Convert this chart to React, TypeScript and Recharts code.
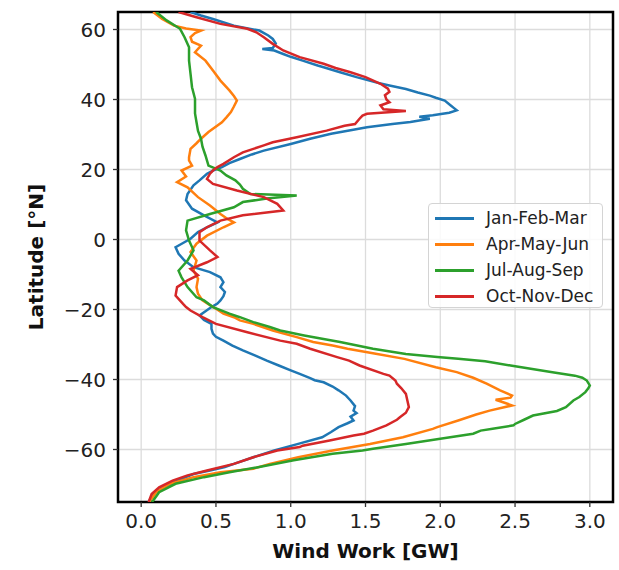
import { LineChart, Line, XAxis, YAxis, CartesianGrid, Legend, ReferenceArea } from "recharts";

// [latitude °N, wind work GW]
const JAN_FEB_MAR: [number, number][] = [
  [-75, 0.05], [-72.7, 0.08], [-70.8, 0.15], [-68.9, 0.24], [-67, 0.35], [-66, 0.46], [-65, 0.56],
  [-64.1, 0.62], [-62.2, 0.75], [-60.3, 0.89], [-58.4, 1.05], [-56.5, 1.21], [-55, 1.27], [-53.6, 1.32],
  [-52.5, 1.38], [-51.7, 1.42], [-50.6, 1.4], [-49.6, 1.44], [-48.9, 1.42], [-47.6, 1.43], [-46, 1.4],
  [-44.6, 1.37], [-43.1, 1.32], [-42, 1.28], [-40.8, 1.22], [-40.2, 1.16], [-39.6, 1.13], [-38.4, 1.06],
  [-37.4, 1.0], [-36, 0.92], [-34.6, 0.84], [-33.1, 0.76], [-31.7, 0.68], [-30.3, 0.61], [-28.9, 0.55],
  [-27.8, 0.5], [-26.9, 0.48], [-25.5, 0.47], [-24.1, 0.47], [-23, 0.42], [-21.7, 0.39], [-20.5, 0.43],
  [-19.3, 0.47], [-18.3, 0.51], [-17.4, 0.53], [-16.2, 0.55], [-15, 0.56], [-13.6, 0.53], [-12.2, 0.55],
  [-10.8, 0.53], [-9.3, 0.46], [-7.9, 0.35], [-6, 0.29], [-4.1, 0.25], [-2.2, 0.23], [-1, 0.28],
  [0.2, 0.33], [2.1, 0.38], [3.5, 0.44], [4.9, 0.51], [6.9, 0.42], [8.8, 0.34], [11.2, 0.3], [13, 0.31],
  [15.5, 0.35], [16.9, 0.39], [18.8, 0.44], [19.7, 0.48], [20.7, 0.54], [21.8, 0.59], [23, 0.66],
  [24.3, 0.74], [25.4, 0.82], [27.3, 1.0], [28.8, 1.13], [30.2, 1.27], [31.2, 1.4], [32.1, 1.51],
  [33, 1.68], [33.6, 1.8], [34.5, 1.93], [35.1, 1.86], [35.5, 1.95], [36.2, 2.06], [36.9, 2.11],
  [37.6, 2.09], [38.3, 2.07], [39.7, 2.03], [40.5, 1.97], [41.1, 1.93], [42, 1.85], [43, 1.77],
  [44, 1.66], [44.9, 1.57], [46.4, 1.44], [47.8, 1.33], [49.2, 1.22], [49.7, 1.18], [51.1, 1.08],
  [52.2, 1.0], [53, 0.95], [54, 0.89], [54.4, 0.81], [54.7, 0.88], [56, 0.9], [57.3, 0.88], [58.3, 0.85],
  [59.7, 0.79], [61.1, 0.62], [63, 0.48], [64, 0.4], [65, 0.33],
];

const APR_MAY_JUN: [number, number][] = [
  [-75, 0.05], [-74.6, 0.06], [-72.2, 0.1], [-69.8, 0.19], [-67.9, 0.35], [-66.5, 0.53], [-65.5, 0.75],
  [-64.1, 0.86], [-62.2, 1.05], [-60.3, 1.28], [-58.4, 1.53], [-56.5, 1.75], [-54.1, 1.95], [-53.6, 1.98],
  [-51.7, 2.12], [-50, 2.24], [-48.9, 2.33], [-47.4, 2.48], [-46.5, 2.42], [-45.8, 2.37], [-45.2, 2.47],
  [-44.6, 2.48], [-43.1, 2.4], [-41.2, 2.31], [-39.5, 2.22], [-37.9, 2.11], [-36.5, 1.97], [-34.1, 1.76],
  [-32.5, 1.55], [-31.2, 1.38], [-30.3, 1.28], [-29.3, 1.15], [-27.9, 1.04], [-26, 0.88], [-24.1, 0.75],
  [-23.1, 0.66], [-22.2, 0.62], [-21.2, 0.55], [-19.8, 0.5], [-18.5, 0.45], [-17.4, 0.41], [-15.5, 0.38],
  [-13.6, 0.37], [-11.2, 0.38], [-8.9, 0.35], [-6, 0.37], [-3.6, 0.33], [-1.2, 0.37], [1.1, 0.44],
  [3.5, 0.55], [4.9, 0.62], [5.8, 0.58], [7.3, 0.53], [9.7, 0.46], [12.1, 0.38], [14.9, 0.31],
  [16.4, 0.24], [18, 0.3], [19.7, 0.27], [21.1, 0.34], [22.6, 0.32], [23.5, 0.32], [25.9, 0.33],
  [27.5, 0.37], [28.8, 0.4], [30.7, 0.45], [33.5, 0.54], [34.9, 0.57], [36.4, 0.6], [38, 0.62],
  [39.7, 0.64], [41, 0.62], [42.6, 0.59], [45.4, 0.53], [48.3, 0.48], [51.1, 0.43], [53.5, 0.36],
  [55.4, 0.4], [56.5, 0.34], [57.8, 0.33], [59, 0.36], [59.7, 0.4], [60.3, 0.3], [61.1, 0.22],
  [63, 0.14], [65, 0.08],
];

const JUL_AUG_SEP: [number, number][] = [
  [-75, 0.07], [-74.6, 0.08], [-72.2, 0.12], [-69.8, 0.23], [-67.9, 0.42], [-66.5, 0.59], [-65, 0.79],
  [-63.1, 1.02], [-62.2, 1.14], [-61.2, 1.28], [-60.3, 1.48], [-59.8, 1.55], [-58.4, 1.77], [-56.9, 2.0],
  [-55.5, 2.22], [-54.6, 2.27], [-54.1, 2.35], [-53.1, 2.49], [-52.7, 2.5], [-51.5, 2.56], [-50.3, 2.62],
  [-49, 2.78], [-47.9, 2.84], [-46, 2.89], [-45, 2.93], [-43.6, 2.97], [-42.5, 2.99], [-41.7, 3.0],
  [-40.3, 2.98], [-39.5, 2.95], [-38.9, 2.9], [-37.9, 2.75], [-36, 2.47], [-34.8, 2.3], [-34.1, 2.12],
  [-33.6, 1.98], [-32.7, 1.77], [-31.2, 1.55], [-29.3, 1.33], [-27.4, 1.09], [-26, 0.93], [-25, 0.86],
  [-23.6, 0.75], [-22.2, 0.66], [-21.2, 0.59], [-19.3, 0.48], [-17.4, 0.42], [-16.5, 0.37], [-13.6, 0.31],
  [-10.8, 0.27], [-8.9, 0.25], [-6, 0.31], [-3.1, 0.35], [-0.3, 0.32], [2.6, 0.3], [5.4, 0.31],
  [7.3, 0.46], [9.2, 0.62], [10.7, 0.68], [11.7, 0.84], [12.6, 1.04], [13, 0.73], [14.5, 0.68],
  [15.7, 0.66], [16.9, 0.63], [18.3, 0.57], [19.7, 0.53], [21.1, 0.45], [24, 0.43], [26.5, 0.41],
  [28.8, 0.4], [31, 0.38], [33.5, 0.37], [36, 0.36], [38.3, 0.36], [40.2, 0.36], [43.5, 0.34],
  [47.3, 0.33], [51.1, 0.32], [54.9, 0.32], [57.8, 0.29], [60.2, 0.26], [62.6, 0.17], [65, 0.1],
];

const OCT_NOV_DEC: [number, number][] = [
  [-75, 0.05], [-72.7, 0.07], [-70.8, 0.12], [-68.9, 0.21], [-67.4, 0.31], [-66, 0.44], [-64.1, 0.62],
  [-62.2, 0.75], [-60.3, 0.91], [-59.3, 1.06], [-58.9, 1.08], [-57.4, 1.26], [-56, 1.42], [-55.5, 1.49],
  [-54.6, 1.55], [-53.1, 1.64], [-51.5, 1.71], [-50.8, 1.73], [-49.5, 1.77], [-47.9, 1.79], [-46, 1.78],
  [-44.1, 1.77], [-42.5, 1.74], [-41.2, 1.71], [-40.3, 1.7], [-38.9, 1.66], [-38.4, 1.62], [-36, 1.46],
  [-34.6, 1.39], [-33.6, 1.31], [-31.2, 1.13], [-29.8, 1.04], [-28.9, 0.93], [-26.5, 0.71], [-24.1, 0.5],
  [-22.2, 0.41], [-20.3, 0.33], [-19.3, 0.3], [-18.4, 0.28], [-16, 0.23], [-13.6, 0.24], [-11.7, 0.31],
  [-10.2, 0.38], [-8.4, 0.33], [-6.5, 0.44], [-5, 0.51], [-3.1, 0.46], [-0.3, 0.39], [2.1, 0.39],
  [3.5, 0.44], [5.4, 0.53], [6.9, 0.68], [8.3, 0.95], [10.2, 0.91], [12.1, 0.82], [14, 0.64],
  [15.9, 0.48], [17.3, 0.44], [18.8, 0.46], [19.7, 0.48], [20.7, 0.51], [21.6, 0.55], [23.5, 0.62],
  [24.9, 0.68], [26.9, 0.82], [27.8, 0.88], [29.2, 1.04], [31.1, 1.24], [32.5, 1.36], [33, 1.43],
  [34.5, 1.46], [35.4, 1.48], [35.9, 1.51], [36.7, 1.77], [37.2, 1.62], [38.3, 1.6], [39.2, 1.66],
  [40, 1.64], [41.2, 1.63], [42.2, 1.66], [43.1, 1.65], [44.5, 1.6], [46.4, 1.5], [47.8, 1.4],
  [49, 1.3], [50.2, 1.22], [52.1, 1.06], [54, 0.95], [55.9, 0.88], [57.8, 0.82], [59.2, 0.77],
  [60.2, 0.71], [61.6, 0.53], [63.5, 0.37], [65, 0.25],
];

const X_TICKS = [0, 0.5, 1, 1.5, 2, 2.5, 3];
const Y_TICKS = [-60, -40, -20, 0, 20, 40, 60];
const X_DOMAIN: [number, number] = [-0.155, 3.155];
const Y_DOMAIN: [number, number] = [-75, 65];

const SERIES = [
  { name: "Jan-Feb-Mar", color: "#1f77b4", points: JAN_FEB_MAR },
  { name: "Apr-May-Jun", color: "#ff7f0e", points: APR_MAY_JUN },
  { name: "Jul-Aug-Sep", color: "#2ca02c", points: JUL_AUG_SEP },
  { name: "Oct-Nov-Dec", color: "#d62728", points: OCT_NOV_DEC },
];

const FONT = "DejaVu Sans, Liberation Sans, sans-serif";
const tickStyle = { fontSize: 20, fill: "#222", fontFamily: FONT };

function LegendBox() {
  return (
    <div
      style={{
        width: 175,
        height: 105,
        boxSizing: "border-box",
        border: "1px solid #d4d4d4",
        borderRadius: 4,
        background: "rgba(255,255,255,0.85)",
        fontFamily: FONT,
        fontSize: 17,
        color: "#222",
        paddingTop: 1,
        paddingLeft: 6,
      }}
    >
      {SERIES.map((s) => (
        <div key={s.name} style={{ height: 26, display: "flex", alignItems: "center" }}>
          <span style={{ display: "inline-block", width: 39, height: 3, background: s.color, marginRight: 12 }} />
          <span>{s.name}</span>
        </div>
      ))}
    </div>
  );
}

export default function App() {
  return (
    <div style={{ position: "absolute", left: 0, top: 0, background: "#fff" }}>
      <LineChart width={619} height={570} margin={{ top: 12, right: 6, bottom: 0, left: 38 }}>
        <CartesianGrid stroke="#dcdcdc" strokeWidth={1.3} />
        <XAxis
          type="number"
          dataKey="w"
          domain={X_DOMAIN}
          ticks={X_TICKS}
          allowDataOverflow
          height={68}
          axisLine={false}
          tickLine={{ stroke: "#333", strokeWidth: 1.3 }}
          tickSize={5}
          tickMargin={7}
          tick={tickStyle}
          tickFormatter={(v: number) => v.toFixed(1)}
          label={{
            content: (p: any) => {
              const vb = p.viewBox;
              return (
                <text
                  x={vb.x + vb.width / 2}
                  y={vb.y + vb.height - 12}
                  textAnchor="middle"
                  fontFamily={FONT}
                  fontWeight="bold"
                  fontSize={20}
                  fill="#111"
                >
                  Wind Work [GW]
                </text>
              );
            },
          }}
        />
        <YAxis
          type="number"
          domain={Y_DOMAIN}
          ticks={Y_TICKS}
          allowDataOverflow
          width={80}
          axisLine={false}
          tickLine={{ stroke: "#333", strokeWidth: 1.3 }}
          tickSize={5}
          tickMargin={7}
          tick={tickStyle}
          tickFormatter={(v: number) => String(v).replace("-", "\u2212")}
          label={{
            content: (p: any) => {
              const vb = p.viewBox;
              const x = vb.x + 5;
              const y = vb.y + vb.height / 2;
              return (
                <text
                  x={x}
                  y={y}
                  transform={`rotate(-90 ${x} ${y})`}
                  textAnchor="middle"
                  fontFamily={FONT}
                  fontWeight="bold"
                  fontSize={20}
                  fill="#111"
                >
                  Latitude [°N]
                </text>
              );
            },
          }}
        />
        {SERIES.map((s) => (
          <Line
            key={s.name}
            name={s.name}
            data={s.points.map(([lat, w]) => ({ lat, w }))}
            dataKey="lat"
            stroke={s.color}
            strokeWidth={2.5}
            dot={false}
            activeDot={false}
            type="linear"
            isAnimationActive={false}
          />
        ))}
        <ReferenceArea
          x1={X_DOMAIN[0]}
          x2={X_DOMAIN[1]}
          y1={Y_DOMAIN[0]}
          y2={Y_DOMAIN[1]}
          fill="none"
          stroke="#000"
          strokeWidth={2.5}
          ifOverflow="visible"
        />
        <Legend
          layout="vertical"
          align="center"
          verticalAlign="middle"
          content={() => <LegendBox />}
          wrapperStyle={{ left: 428, top: 203, width: 175, height: 105 }}
        />
      </LineChart>
    </div>
  );
}
